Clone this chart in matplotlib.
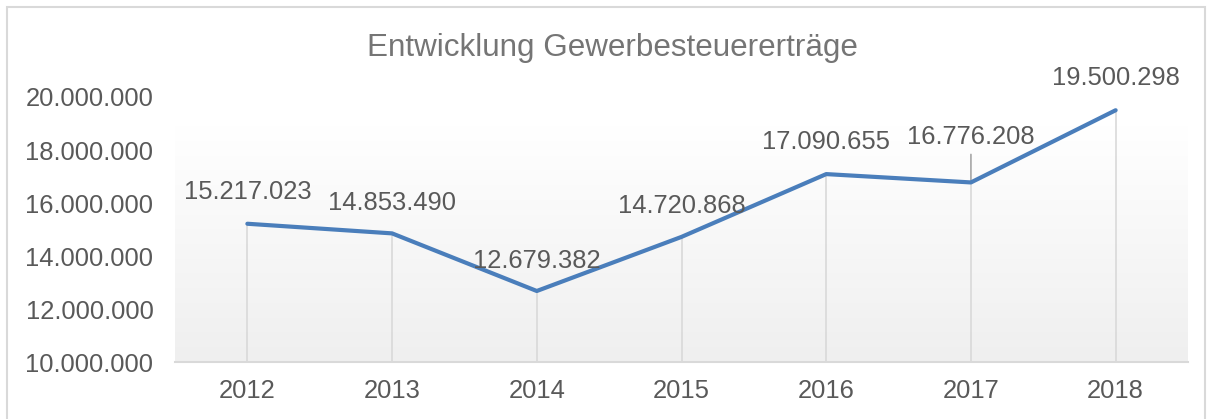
import numpy as np
import matplotlib
matplotlib.use('Agg')
from matplotlib import pyplot as plt
from matplotlib.colors import LinearSegmentedColormap
from matplotlib.patches import Rectangle

plt.rcParams['font.family'] = ['Liberation Sans', 'DejaVu Sans']

years = ['2012', '2013', '2014', '2015', '2016', '2017', '2018']
ertraege = [15217023, 14853490, 12679382, 14720868, 17090655, 16776208, 19500298]
yticks = [10000000, 12000000, 14000000, 16000000, 18000000, 20000000]


def fmt(v):
    return f'{v:,}'.replace(',', '.')


grey_text = '#595959'
fig = plt.figure(figsize=(12.13, 4.19), dpi=100)
ax = fig.add_axes([175 / 1213, 57 / 419, 1013 / 1213, 265 / 419])

# Rahmen um das Diagramm
fig.patches.append(Rectangle((7 / 1213, -0.05), 1198 / 1213, 1.05 - 7 / 419,
                             transform=fig.transFigure, fill=False,
                             edgecolor='#d9d9d9', linewidth=1.5))

# Verlauf im Zeichenbereich
cmap = LinearSegmentedColormap.from_list('bg', ['#ffffff', '#efefef'])
grad = np.linspace(0, 1, 256).reshape(-1, 1)
ax.imshow(grad, cmap=cmap, aspect='auto', extent=(0, 1, 0, 0.887),
          transform=ax.transAxes, zorder=0, origin='upper')

x = np.arange(len(years))
ax.vlines(x, yticks[0], ertraege, colors='#d9d9d9', linewidth=1.2, zorder=1)
ax.plot(x, ertraege, color='#4a7ebb', linewidth=3, solid_capstyle='round', zorder=3)

offsets = [32, 30, 30, 31, 32, 45, 32]
for xi, v, off in zip(x, ertraege, offsets):
    ax.annotate(fmt(v), (xi, v), xytext=(0, off), textcoords='offset pixels',
                ha='center', va='center', fontsize=18.4, color=grey_text, zorder=4)
# Führungslinie 2017
ax.annotate('', (5, ertraege[5]), xytext=(0, 28), textcoords='offset pixels',
            arrowprops=dict(arrowstyle='-', color='#a6a6a6', linewidth=1.2,
                            shrinkA=0, shrinkB=0), zorder=2)

ax.set_xlim(-0.5, len(years) - 0.5)
ax.set_ylim(yticks[0], yticks[-1])
ax.set_xticks(x)
ax.set_xticklabels(years)
ax.set_yticks(yticks)
ax.set_yticklabels([fmt(t) for t in yticks])
ax.tick_params(axis='both', length=0, labelsize=18.4, labelcolor=grey_text)
ax.tick_params(axis='x', pad=12)
ax.tick_params(axis='y', pad=15.5)
for s in ['top', 'right', 'left']:
    ax.spines[s].set_visible(False)
ax.spines['bottom'].set_color('#d9d9d9')
ax.spines['bottom'].set_linewidth(1.5)
ax.spines['bottom'].set_zorder(5)
ax.set_facecolor('white')

fig.text(612 / 1213, 1 - 48 / 419, 'Entwicklung Gewerbesteuererträge',
         ha='center', va='center', fontsize=22.6, color='#757575')

fig.savefig('out.png', dpi=100)
